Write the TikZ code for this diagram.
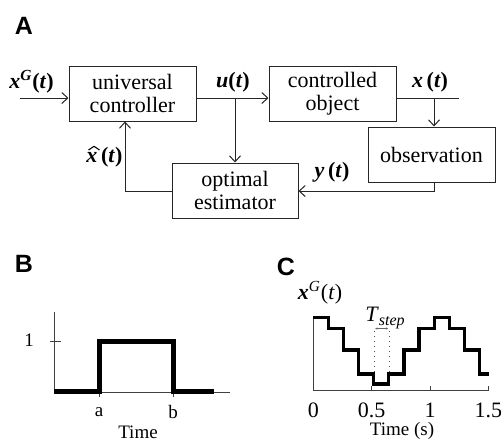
\documentclass[tikz,border=0pt]{standalone}
\usepackage{fontspec}
\setmainfont{Liberation Serif}
\newfontfamily\serifA{Liberation Serif}
\newfontfamily\panelfont{Liberation Sans}
\usetikzlibrary{arrows.meta}
\newcommand\bv[1]{\textbf{\textit{#1}}}
\begin{document}
\begin{tikzpicture}[x=0.5pt,y=-0.5pt,
  blk/.style={draw=black!85, line width=0.5pt, minimum width=63.5pt, minimum height=27.5pt, inner sep=0pt, align=center, font=\serifA\fontsize{11}{11.5}\selectfont},
  wire/.style={draw=black!85, line width=0.5pt},
  arr/.style={wire, -{Straight Barb[length=3pt,width=5.5pt]}},
  lab/.style={font=\serifA\fontsize{11}{13}\selectfont, inner sep=0pt},
  small/.style={font=\serifA\fontsize{9.5}{11}\selectfont, inner sep=0pt},
  panel/.style={font=\panelfont\bfseries\fontsize{12.5}{14}\selectfont, inner sep=0pt},
  thin/.style={draw=black!75, line width=0.4pt},
  sig/.style={draw=black, line width=2.5pt},
  sigc/.style={draw=black, line width=1.6pt, line join=miter}
]
\useasboundingbox (0,0) rectangle (501,447);
\fill[white] (0,0) rectangle (501,447);

% ---------------- Panel A ----------------
\node[panel] (pA) at (24,25.5) {A};
\node[blk] (uc)  at (132.5,93.5) {universal\\controller};
\node[blk] (co)  at (332.5,93.5) {controlled\\object};
\node[blk] (obs) at (431.5,154.5) {observation};
\node[blk, minimum width=63pt] (est) at (235,190.5) {optimal\\estimator};

\coordinate (in)   at (20,98);
\coordinate (uj)   at (235,98);
\coordinate (xj)   at (434,98);
\coordinate (xout) at (459,98);
\coordinate (fb)   at (434,191);
\coordinate (fb2)  at (125,191);

\draw[arr] (in) -- (in -| uc.west);
\draw[arr] (uc.east |- in) -- (co.west |- in);
\draw[arr] (uj) -- (uj |- est.north);
\draw[wire] (co.east |- in) -- (xout);
\draw[arr] (xj) -- (xj |- obs.north);
\draw[arr] (xj |- obs.south) -- (fb) -- (fb -| est.east);
\draw[arr] (fb2 -| est.west) -- (fb2) -- (fb2 |- uc.south);

\node[lab] (lxg) at (31.5,82) {\bv{x}\textsuperscript{\bv{G}}\textbf{(\textit{t})}};
\node[lab] (lu)  at (233,82) {\textbf{\textit{u}(\textit{t})}};
\node[lab] (lx)  at (430,82) {\textbf{\textit{x}\,(\textit{t})}};
\node[lab, anchor=base west] (lxh) at (86,162) {\textbf{\textit{x}\,(\textit{t})}};
\draw[black, line width=0.55pt, line join=round] (88.5,150) -- (94,146.3) -- (99.5,150);
\node[lab] (ly)  at (332,172) {\textbf{\textit{y}\,(\textit{t})}};

% ---------------- Panel B ----------------
\node[panel] (pB) at (24,264) {B};
\coordinate (bo) at (54,392);
\draw[thin] (54,312) -- (bo) -- (230,392);
\draw[thin] (50,341) -- (61,341);
\draw[thin] (99,392) -- (99,397);
\draw[thin] (173,392) -- (173,397);
\draw[sig] (54,391) -- (99,391) -- (99,341) -- (173,341) -- (173,391) -- (214,391);
\node[small] (l1) at (29,340) {1};
\node[small] (la) at (99,412) {a};
\node[small] (lb) at (173,412) {b};
\node[small] (ltb) at (138,432) {Time};

% ---------------- Panel C ----------------
\node[panel] (pC) at (286,267) {C};
\node[lab] (lxgc) at (320,293) {\bv{x}\textsuperscript{\textit{G}}(\textit{t})};
\draw[thin] (313.3,317) -- (313.3,390) -- (489,390);
\foreach \xx in {371.7,430,488.3} \draw[thin] (\xx,390) -- (\xx,386);
\node[lab] (t0)  at (313.3,410) {0};
\node[lab] (t05) at (371.7,410) {0.5};
\node[lab] (t1)  at (430,410) {1};
\node[lab] (t15) at (488.3,410) {1.5};
\node[small] (ltc) at (402,431) {Time (s)};

\draw[black!70, line width=0.5pt, dotted] (374,331) -- (374,384);
\draw[black!70, line width=0.5pt, dotted] (389.3,331) -- (389.3,384);
\draw[black!60, line width=0.3pt, {Latex[length=1.2pt,width=1.2pt]}-{Latex[length=1.2pt,width=1.2pt]}] (375,328.5) -- (388.3,328.5);
\node[lab] (ts) at (385,318) {\textit{T}\raisebox{-0.4ex}{\fontsize{8}{8}\selectfont\textit{step}}};

\draw[sigc] (313.3,317.3) -- (328.4,317.3) -- (328.4,328.3) -- (343.5,328.3) -- (343.5,350) -- (358.6,350) -- (358.6,374) -- (373.7,374) -- (373.7,384) -- (388.8,384) -- (388.8,374) -- (403.9,374) -- (403.9,350) -- (419,350) -- (419,328.3) -- (434.1,328.3) -- (434.1,317.3) -- (449.2,317.3) -- (449.2,328.3) -- (464.3,328.3) -- (464.3,350) -- (479.4,350) -- (479.4,374) -- (489,374);
\end{tikzpicture}
\end{document}
